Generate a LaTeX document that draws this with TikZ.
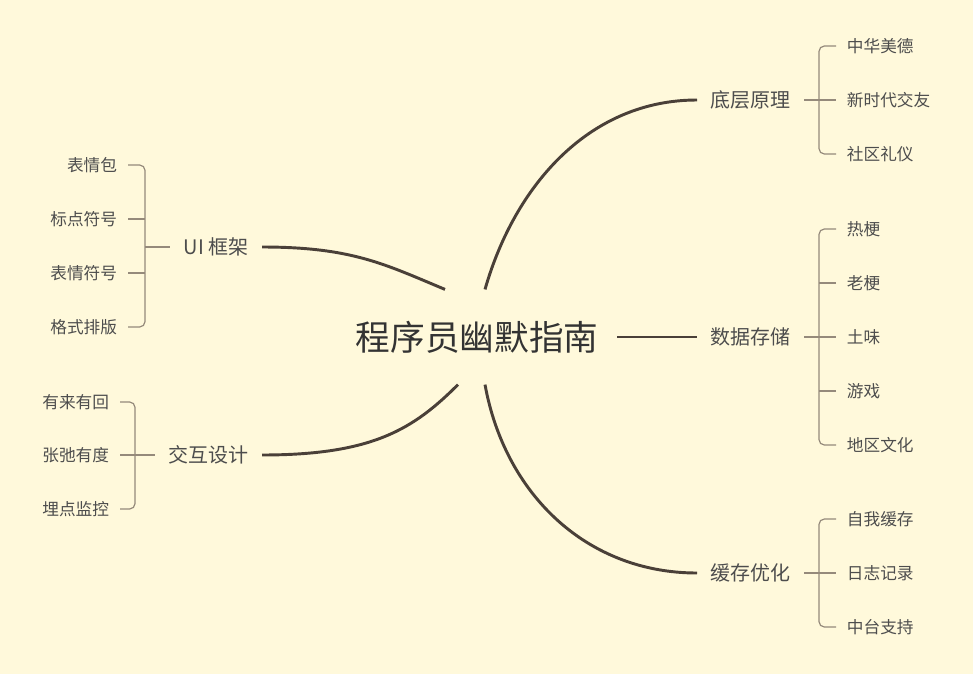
\documentclass[tikz,border=0pt]{standalone}
\usepackage{fontspec}
\setmainfont{Noto Sans CJK SC}
\usetikzlibrary{calc}
\definecolor{PaperBg}{HTML}{FFF9DB}
\definecolor{TrunkLine}{HTML}{4A4038}
\definecolor{TwigLine}{HTML}{958A7B}
\definecolor{InkDark}{HTML}{333333}
\definecolor{InkSoft}{HTML}{4D4D4D}

\begin{document}
\begin{tikzpicture}[x=0.75pt,y=-0.75pt,
      root/.style={font=\fontsize{26}{30}\selectfont,text=InkDark,
                   minimum width=210pt,minimum height=71pt,inner sep=0pt},
      branch/.style={font=\fontsize{15}{18}\selectfont,text=InkSoft,inner xsep=10pt,inner ysep=2pt},
      leaf/.style={font=\fontsize{12.5}{15}\selectfont,text=InkSoft,inner xsep=8pt,inner ysep=2pt},
      trunk/.style={TrunkLine,line width=2.2pt},
      twig/.style={TwigLine,line width=0.9pt},
      brace/.style={twig,rounded corners=4pt}]
    \fill[PaperBg] (0,0) rectangle (973,674);
    \useasboundingbox (0,0) rectangle (973,674);

    \node[root] (root) at (477,337) {程序员幽默指南};
    \node[branch,anchor=west] (base)  at (697,100) {底层原理};
    \node[branch,anchor=west] (data)  at (697,337) {数据存储};
    \node[branch,anchor=west] (cache) at (697,573) {缓存优化};
    \node[branch,anchor=east] (ui)    at (262,247) {UI 框架};
    \node[branch,anchor=east] (ixd)   at (262,455) {交互设计};

    % leaves
    \foreach \nm/\yy/\txt in {base1/46/中华美德,base2/100/新时代交友,base3/154/社区礼仪,
        data1/229/热梗,data2/283/老梗,data3/337/土味,data4/391/游戏,data5/445/地区文化,
        cache1/519/自我缓存,cache2/573/日志记录,cache3/627/中台支持}
      \node[leaf,anchor=west] (\nm) at (836,\yy) {\txt};
    \foreach \nm/\yy/\txt in {ui1/165/表情包,ui2/219/标点符号,ui3/273/表情符号,ui4/327/格式排版}
      \node[leaf,anchor=east] (\nm) at (128,\yy) {\txt};
    \foreach \nm/\yy/\txt in {ixd1/402/有来有回,ixd2/455/张弛有度,ixd3/509/埋点监控}
      \node[leaf,anchor=east] (\nm) at (120,\yy) {\txt};

    % main branches
    \draw[trunk] ($(root.north)+(8,0)$) .. controls +(30,-105) and +(-107,0) .. (base.west);
    \draw[trunk] (root.east) -- (data.west);
    \draw[trunk] ($(root.south)+(8,0)$) .. controls +(20,110) and +(-110,0) .. (cache.west);
    \draw[trunk] ($(root.north)+(-32,0)$) .. controls +(-60,-25) and +(90,0) .. (ui.east);
    \draw[trunk] ($(root.south)+(-19,0)$) .. controls +(-45,45) and +(110,0) .. (ixd.east);

    % brackets
    \coordinate (rj) at (819,0);
    \coordinate (lj) at (145,0);
    \coordinate (lk) at (135,0);
    \draw[brace] (base1.west) -| (rj |- base2.west) |- (base3.west);
    \draw[twig] (base.east) -- (base2.west);
    \draw[brace] (data1.west) -| (rj |- data3.west) |- (data5.west);
    \draw[twig] (data.east) -- (data3.west);
    \foreach \k in {2,4}
      \draw[twig] (data\k.west) -- (rj |- data\k.west);
    \draw[brace] (cache1.west) -| (rj |- cache2.west) |- (cache3.west);
    \draw[twig] (cache.east) -- (cache2.west);
    \draw[brace] (ui1.east) -| (lj |- ui2.east) |- (ui4.east);
    \foreach \k in {2,3}
      \draw[twig] (ui\k.east) -- (lj |- ui\k.east);
    \draw[twig] (lj |- ui.west) -- (ui.west);
    \draw[brace] (ixd1.east) -| (lk |- ixd2.east) |- (ixd3.east);
    \draw[twig] (ixd2.east) -- (ixd.west);
  \end{tikzpicture}
\end{document}
